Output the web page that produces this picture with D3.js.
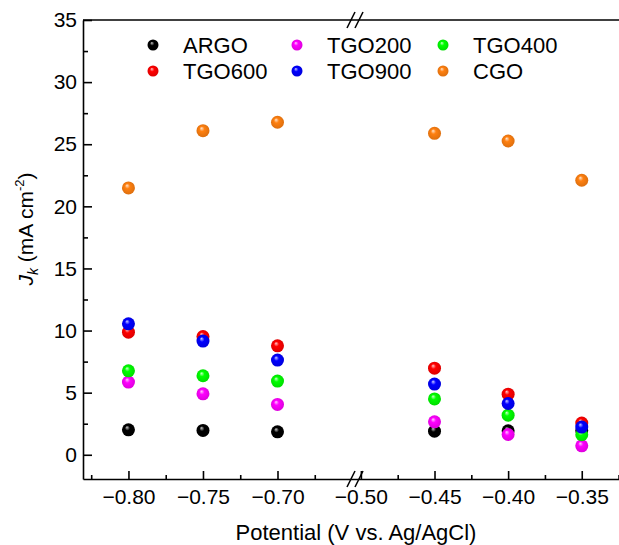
<!DOCTYPE html>
<html>
<head>
<meta charset="utf-8">
<script src="https://cdn.jsdelivr.net/npm/d3@7"></script>
<style>
  html, body { margin: 0; padding: 0; background: #fff; }
  svg { display: block; }
  text { font-family: Arial, "Liberation Sans", sans-serif; fill: #000; }
</style>
</head>
<body>
<svg id="chart" width="619" height="545"></svg>
<script>
// Potentials (V vs. Ag/AgCl) at which Jk was evaluated
const potentials = [-0.80, -0.75, -0.70, -0.45, -0.40, -0.35];

// Kinetic current density Jk (mA cm^-2) for each sample
const argo   = [2.01, 1.96, 1.85, 1.90, 1.93, 1.95];
const tgo200 = [5.85, 4.91, 4.05, 2.65, 1.63, 0.72];
const tgo400 = [6.76, 6.36, 5.93, 4.50, 3.19, 1.61];
const tgo600 = [9.87, 9.52, 8.77, 6.97, 4.88, 2.55];
const tgo900 = [10.54, 9.15, 7.62, 5.69, 4.13, 2.23];
const cgo    = [21.48, 26.09, 26.77, 25.88, 25.26, 22.10];

const seriesNames  = ["ARGO", "TGO200", "TGO400", "TGO600", "TGO900", "CGO"];
const seriesValues = [argo, tgo200, tgo400, tgo600, tgo900, cgo];
const seriesColors = ["#000000", "#ff00ff", "#00ff00", "#ff0000", "#0000ff", "#ff8010"];

// Axis ticks
const xMajorTicks = [-0.80, -0.75, -0.70, -0.50, -0.45, -0.40, -0.35];
const xMinorTicks = [-0.825, -0.775, -0.725, -0.675, -0.475, -0.425, -0.375, -0.325];
const yMajorTicks = [0, 5, 10, 15, 20, 25, 30, 35];
const yMinorTicks = [2.5, 7.5, 12.5, 17.5, 22.5, 27.5, 32.5];

const svg = d3.select("#chart");

const plotLeft = 83, plotRight = 619, plotTop = 20, plotBottom = 479;
const breakX = 355;

// Broken x axis: two linear pieces joined at the break
const x = d3.scaleLinear()
  .domain([-0.8305, -0.648, -0.504, -0.3247])
  .range([plotLeft, breakX, breakX, plotRight]);

const y = d3.scaleLinear().domain([-1.95, 35]).range([plotBottom, plotTop]);

const fmtX = d3.format(".2f");

// Sphere-like shading for markers
const defs = svg.append("defs");
seriesColors.forEach((c, i) => {
  const g = defs.append("radialGradient")
    .attr("id", "ball" + i)
    .attr("cx", "50%").attr("cy", "50%").attr("r", "55%")
    .attr("fx", "38%").attr("fy", "30%");
  const base = d3.rgb(c);
  g.append("stop").attr("offset", "0%").attr("stop-color", d3.interpolateRgb(c, "#ffffff")(0.8));
  g.append("stop").attr("offset", "35%").attr("stop-color", c);
  g.append("stop").attr("offset", "100%").attr("stop-color", i === 0 ? "#000" : base.darker(0.45));
});

// Axes
const axisFont = 21;

svg.append("g")
  .attr("transform", `translate(0,${plotBottom})`)
  .call(d3.axisBottom(x).tickValues(xMajorTicks).tickFormat(fmtX)
    .tickSizeInner(-8).tickSizeOuter(0).tickPadding(10));
svg.append("g")
  .attr("transform", `translate(0,${plotBottom})`)
  .call(d3.axisBottom(x).tickValues(xMinorTicks).tickFormat("")
    .tickSizeInner(-4).tickSizeOuter(0))
  .select(".domain").remove();

svg.append("g")
  .attr("transform", `translate(${plotLeft},0)`)
  .call(d3.axisLeft(y).tickValues(yMajorTicks)
    .tickSizeInner(-9).tickSizeOuter(0).tickPadding(6));
svg.append("g")
  .attr("transform", `translate(${plotLeft},0)`)
  .call(d3.axisLeft(y).tickValues(yMinorTicks).tickFormat("")
    .tickSizeInner(-5).tickSizeOuter(0))
  .select(".domain").remove();

svg.selectAll(".tick text")
  .attr("font-size", axisFont)
  .attr("font-family", "Arial, 'Liberation Sans', sans-serif")
  .attr("fill", "#000");
svg.selectAll(".domain, .tick line").attr("stroke", "#000").attr("stroke-width", 1.6);

// Top frame line
svg.append("line")
  .attr("x1", plotLeft).attr("x2", plotRight)
  .attr("y1", y(35)).attr("y2", y(35))
  .attr("stroke", "#000").attr("stroke-width", 1.6);

// Break marks on top and bottom axes
function breakMarks(yPos) {
  const g = svg.append("g");
  [breakX - 4, breakX + 4].forEach(cx => {
    g.append("line")
      .attr("x1", cx - 4).attr("y1", yPos + 8)
      .attr("x2", cx + 4).attr("y2", yPos - 8)
      .attr("stroke", "#000").attr("stroke-width", 1.5);
  });
}
breakMarks(y(35));
breakMarks(plotBottom);

// Data points
const R = 6.5;
seriesValues.forEach((vals, i) => {
  svg.append("g").selectAll("circle")
    .data(vals.map((v, j) => ({ p: potentials[j], v })))
    .join("circle")
    .attr("cx", d => x(d.p))
    .attr("cy", d => y(d.v))
    .attr("r", R)
    .attr("fill", `url(#ball${i})`);
});

// Legend: two rows of three
const legendCols = [153, 297, 443];
const legendRows = [45, 71];
seriesNames.forEach((name, k) => {
  const cx = legendCols[k % 3], cy = legendRows[Math.floor(k / 3)];
  svg.append("circle")
    .attr("cx", cx).attr("cy", cy).attr("r", 5.5)
    .attr("fill", `url(#ball${k})`);
  svg.append("text")
    .attr("x", cx + 30).attr("y", cy)
    .attr("dy", "0.36em")
    .attr("font-size", 22)
    .text(name);
});

// Axis titles
svg.append("text")
  .attr("x", 356).attr("y", 540)
  .attr("text-anchor", "middle")
  .attr("font-size", 22)
  .text("Potential (V vs. Ag/AgCl)");

const yt = svg.append("text")
  .attr("transform", "translate(33,229) rotate(-90)")
  .attr("text-anchor", "middle")
  .attr("font-size", 21);
yt.append("tspan").attr("font-style", "italic").text("J");
yt.append("tspan").attr("font-style", "italic").attr("font-size", 14).attr("dy", 5).text("k");
yt.append("tspan").attr("dy", -5).text(" (mA cm");
yt.append("tspan").attr("font-size", 13).attr("dy", -9).text("-2");
yt.append("tspan").attr("dy", 9).text(")");
</script>
</body>
</html>
